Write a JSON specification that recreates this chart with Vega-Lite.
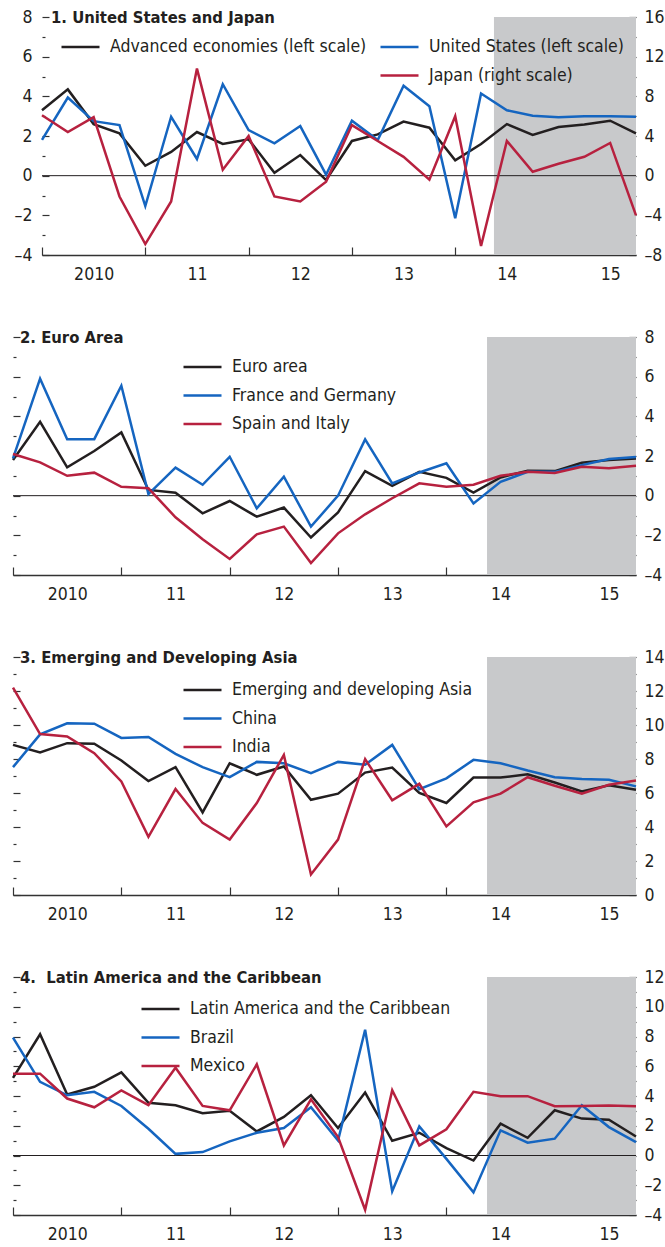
{
  "$schema": "https://vega.github.io/schema/vega-lite/v6.json",
  "background": "white",
  "padding": {"left": 8, "top": 8, "right": 0, "bottom": 0},
  "config": {
    "view": {"stroke": null},
    "font": "DejaVu Sans Condensed, DejaVu Sans, sans-serif",
    "title": {"font": "DejaVu Sans Condensed, DejaVu Sans, sans-serif", "fontSize": 16.5, "fontWeight": "bold", "color": "#231f20", "anchor": "start", "frame": "group", "baseline": "middle", "offset": -18, "dx": 7},
    "axis": {"labelFont": "DejaVu Sans Condensed, DejaVu Sans, sans-serif", "labelFontSize": 17.5, "labelColor": "#231f20", "grid": false, "tickColor": "#333333", "tickWidth": 1.2, "domainColor": "#333333", "domainWidth": 1.5, "labelOverlap": false, "labelFlush": false, "labelBound": false},
    "legend": {"orient": "none", "title": null, "labelFont": "DejaVu Sans Condensed, DejaVu Sans, sans-serif", "labelFontSize": 17.5, "labelColor": "#231f20", "labelLimit": 500, "symbolType": "stroke", "symbolSize": 1444, "symbolStrokeWidth": 3, "clipHeight": 18, "rowPadding": 10.5, "labelOffset": 9, "padding": 0},
    "line": {"strokeWidth": 2.5}
  },
  "datasets": {
    "shade": [{"start": 17.5, "end": 23}],
    "zero": [{"value": 0}],
    "span": [{"value": 0, "from": 0, "to": 23}],
    "p1": [
      {"t": 0, "Advanced economies (left scale)": 3.3, "United States (left scale)": 1.8, "Japan (right scale)": 6.1},
      {"t": 1, "Advanced economies (left scale)": 4.35, "United States (left scale)": 3.94, "Japan (right scale)": 4.4},
      {"t": 2, "Advanced economies (left scale)": 2.6, "United States (left scale)": 2.75, "Japan (right scale)": 5.9},
      {"t": 3, "Advanced economies (left scale)": 2.13, "United States (left scale)": 2.55, "Japan (right scale)": -2.1},
      {"t": 4, "Advanced economies (left scale)": 0.5, "United States (left scale)": -1.53, "Japan (right scale)": -6.9},
      {"t": 5, "Advanced economies (left scale)": 1.2, "United States (left scale)": 2.97, "Japan (right scale)": -2.6},
      {"t": 6, "Advanced economies (left scale)": 2.2, "United States (left scale)": 0.84, "Japan (right scale)": 10.8},
      {"t": 7, "Advanced economies (left scale)": 1.6, "United States (left scale)": 4.61, "Japan (right scale)": 0.6},
      {"t": 8, "Advanced economies (left scale)": 1.83, "United States (left scale)": 2.3, "Japan (right scale)": 4.0},
      {"t": 9, "Advanced economies (left scale)": 0.15, "United States (left scale)": 1.63, "Japan (right scale)": -2.1},
      {"t": 10, "Advanced economies (left scale)": 1.04, "United States (left scale)": 2.5, "Japan (right scale)": -2.6},
      {"t": 11, "Advanced economies (left scale)": -0.22, "United States (left scale)": 0.05, "Japan (right scale)": -0.6},
      {"t": 12, "Advanced economies (left scale)": 1.75, "United States (left scale)": 2.77, "Japan (right scale)": 5.1},
      {"t": 13, "Advanced economies (left scale)": 2.08, "United States (left scale)": 1.8, "Japan (right scale)": 3.5},
      {"t": 14, "Advanced economies (left scale)": 2.73, "United States (left scale)": 4.53, "Japan (right scale)": 1.9},
      {"t": 15, "Advanced economies (left scale)": 2.42, "United States (left scale)": 3.5, "Japan (right scale)": -0.4},
      {"t": 16, "Advanced economies (left scale)": 0.77, "United States (left scale)": -2.15, "Japan (right scale)": 6.0},
      {"t": 17, "Advanced economies (left scale)": 1.6, "United States (left scale)": 4.14, "Japan (right scale)": -7.1},
      {"t": 18, "Advanced economies (left scale)": 2.6, "United States (left scale)": 3.3, "Japan (right scale)": 3.5},
      {"t": 19, "Advanced economies (left scale)": 2.05, "United States (left scale)": 3.02, "Japan (right scale)": 0.4},
      {"t": 20, "Advanced economies (left scale)": 2.45, "United States (left scale)": 2.95, "Japan (right scale)": 1.2},
      {"t": 21, "Advanced economies (left scale)": 2.58, "United States (left scale)": 3.0, "Japan (right scale)": 1.9},
      {"t": 22, "Advanced economies (left scale)": 2.77, "United States (left scale)": 3.0, "Japan (right scale)": 3.3},
      {"t": 23, "Advanced economies (left scale)": 2.13, "United States (left scale)": 2.97, "Japan (right scale)": -4.0}
    ],
    "p2": [
      {"t": 0, "Euro area": 1.8, "France and Germany": 1.88, "Spain and Italy": 2.1},
      {"t": 1, "Euro area": 3.72, "France and Germany": 5.9, "Spain and Italy": 1.68},
      {"t": 2, "Euro area": 1.43, "France and Germany": 2.85, "Spain and Italy": 1.0},
      {"t": 3, "Euro area": 2.25, "France and Germany": 2.85, "Spain and Italy": 1.16},
      {"t": 4, "Euro area": 3.19, "France and Germany": 5.54, "Spain and Italy": 0.45},
      {"t": 5, "Euro area": 0.29, "France and Germany": 0.08, "Spain and Italy": 0.37},
      {"t": 6, "Euro area": 0.15, "France and Germany": 1.41, "Spain and Italy": -1.09},
      {"t": 7, "Euro area": -0.89, "France and Germany": 0.55, "Spain and Italy": -2.2},
      {"t": 8, "Euro area": -0.27, "France and Germany": 1.96, "Spain and Italy": -3.19},
      {"t": 9, "Euro area": -1.06, "France and Germany": -0.64, "Spain and Italy": -1.95},
      {"t": 10, "Euro area": -0.6, "France and Germany": 0.96, "Spain and Italy": -1.56},
      {"t": 11, "Euro area": -2.11, "France and Germany": -1.56, "Spain and Italy": -3.4},
      {"t": 12, "Euro area": -0.84, "France and Germany": 0.0, "Spain and Italy": -1.9},
      {"t": 13, "Euro area": 1.24, "France and Germany": 2.84, "Spain and Italy": -0.94},
      {"t": 14, "Euro area": 0.5, "France and Germany": 0.62, "Spain and Italy": -0.13},
      {"t": 15, "Euro area": 1.2, "France and Germany": 1.17, "Spain and Italy": 0.62},
      {"t": 16, "Euro area": 0.9, "France and Germany": 1.63, "Spain and Italy": 0.45},
      {"t": 17, "Euro area": 0.15, "France and Germany": -0.39, "Spain and Italy": 0.55},
      {"t": 18, "Euro area": 0.92, "France and Germany": 0.7, "Spain and Italy": 1.0},
      {"t": 19, "Euro area": 1.26, "France and Germany": 1.2, "Spain and Italy": 1.2},
      {"t": 20, "Euro area": 1.24, "France and Germany": 1.2, "Spain and Italy": 1.14},
      {"t": 21, "Euro area": 1.66, "France and Germany": 1.54, "Spain and Italy": 1.46},
      {"t": 22, "Euro area": 1.8, "France and Germany": 1.85, "Spain and Italy": 1.38},
      {"t": 23, "Euro area": 1.88, "France and Germany": 1.95, "Spain and Italy": 1.51}
    ],
    "p3": [
      {"t": 0, "Emerging and developing Asia": 8.83, "China": 7.52, "India": 12.2},
      {"t": 1, "Emerging and developing Asia": 8.38, "China": 9.45, "India": 9.47},
      {"t": 2, "Emerging and developing Asia": 8.93, "China": 10.1, "India": 9.32},
      {"t": 3, "Emerging and developing Asia": 8.9, "China": 10.08, "India": 8.34},
      {"t": 4, "Emerging and developing Asia": 7.91, "China": 9.24, "India": 6.68},
      {"t": 5, "Emerging and developing Asia": 6.7, "China": 9.3, "India": 3.42},
      {"t": 6, "Emerging and developing Asia": 7.52, "China": 8.3, "India": 6.23},
      {"t": 7, "Emerging and developing Asia": 4.86, "China": 7.52, "India": 4.24},
      {"t": 8, "Emerging and developing Asia": 7.75, "China": 6.93, "India": 3.26},
      {"t": 9, "Emerging and developing Asia": 7.07, "China": 7.83, "India": 5.41},
      {"t": 10, "Emerging and developing Asia": 7.56, "China": 7.75, "India": 8.24},
      {"t": 11, "Emerging and developing Asia": 5.6, "China": 7.17, "India": 1.21},
      {"t": 12, "Emerging and developing Asia": 5.96, "China": 7.83, "India": 3.26},
      {"t": 13, "Emerging and developing Asia": 7.2, "China": 7.66, "India": 7.99},
      {"t": 14, "Emerging and developing Asia": 7.5, "China": 8.83, "India": 5.57},
      {"t": 15, "Emerging and developing Asia": 6.0, "China": 6.23, "India": 6.54},
      {"t": 16, "Emerging and developing Asia": 5.41, "China": 6.86, "India": 4.04},
      {"t": 17, "Emerging and developing Asia": 6.91, "China": 7.95, "India": 5.45},
      {"t": 18, "Emerging and developing Asia": 6.91, "China": 7.75, "India": 5.96},
      {"t": 19, "Emerging and developing Asia": 7.1, "China": 7.32, "India": 6.93},
      {"t": 20, "Emerging and developing Asia": 6.62, "China": 6.93, "India": 6.43},
      {"t": 21, "Emerging and developing Asia": 6.09, "China": 6.82, "India": 5.96},
      {"t": 22, "Emerging and developing Asia": 6.45, "China": 6.78, "India": 6.48},
      {"t": 23, "Emerging and developing Asia": 6.19, "China": 6.39, "India": 6.74}
    ],
    "p4": [
      {"t": 0, "Latin America and the Caribbean": 5.22, "Brazil": 7.93, "Mexico": 5.5},
      {"t": 1, "Latin America and the Caribbean": 8.15, "Brazil": 4.95, "Mexico": 5.5},
      {"t": 2, "Latin America and the Caribbean": 4.1, "Brazil": 4.05, "Mexico": 3.83},
      {"t": 3, "Latin America and the Caribbean": 4.62, "Brazil": 4.28, "Mexico": 3.24},
      {"t": 4, "Latin America and the Caribbean": 5.59, "Brazil": 3.33, "Mexico": 4.37},
      {"t": 5, "Latin America and the Caribbean": 3.54, "Brazil": 1.8, "Mexico": 3.38},
      {"t": 6, "Latin America and the Caribbean": 3.38, "Brazil": 0.11, "Mexico": 5.9},
      {"t": 7, "Latin America and the Caribbean": 2.84, "Brazil": 0.23, "Mexico": 3.33},
      {"t": 8, "Latin America and the Caribbean": 3.0, "Brazil": 0.95, "Mexico": 3.04},
      {"t": 9, "Latin America and the Caribbean": 1.62, "Brazil": 1.53, "Mexico": 6.13},
      {"t": 10, "Latin America and the Caribbean": 2.59, "Brazil": 1.85, "Mexico": 0.68},
      {"t": 11, "Latin America and the Caribbean": 4.05, "Brazil": 3.24, "Mexico": 3.78},
      {"t": 12, "Latin America and the Caribbean": 1.85, "Brazil": 1.01, "Mexico": 1.24},
      {"t": 13, "Latin America and the Caribbean": 4.23, "Brazil": 8.45, "Mexico": -3.65},
      {"t": 14, "Latin America and the Caribbean": 0.99, "Brazil": -2.41, "Mexico": 4.39},
      {"t": 15, "Latin America and the Caribbean": 1.53, "Brazil": 1.96, "Mexico": 0.68},
      {"t": 16, "Latin America and the Caribbean": 0.5, "Brazil": -0.23, "Mexico": 1.76},
      {"t": 17, "Latin America and the Caribbean": -0.34, "Brazil": -2.48, "Mexico": 4.28},
      {"t": 18, "Latin America and the Caribbean": 2.14, "Brazil": 1.69, "Mexico": 3.99},
      {"t": 19, "Latin America and the Caribbean": 1.19, "Brazil": 0.86, "Mexico": 3.99},
      {"t": 20, "Latin America and the Caribbean": 3.04, "Brazil": 1.13, "Mexico": 3.31},
      {"t": 21, "Latin America and the Caribbean": 2.48, "Brazil": 3.38, "Mexico": 3.33},
      {"t": 22, "Latin America and the Caribbean": 2.41, "Brazil": 1.91, "Mexico": 3.36},
      {"t": 23, "Latin America and the Caribbean": 1.28, "Brazil": 0.9, "Mexico": 3.31}
    ]
  },
  "concat": [
    {
      "width": 623, "height": 238,
      "title": {"text": "1. United States and Japan", "dx": 38},
      "data": {"name": "p1"},
      "layer": [
        {"data": {"name": "shade"}, "mark": {"type": "rect", "color": "#c8c9cb"},
         "encoding": {"x": {"field": "start", "type": "quantitative", "scale": {"domain": [0, 23], "range": [29, 623], "nice": false, "zero": false},
           "axis": {"title": null, "values": [0,2,4,6,8,10,12,14,16,18,20,22], "labelExpr": "datum.value % 4 == 2 ? ['2010','11','12','13','14','15'][floor(datum.value / 4)] : ''", "tickOpacity": {"condition": {"test": "datum.value % 4 == 0", "value": 1}, "value": 0}, "tickSize": -8, "labelPadding": 18}},
           "x2": {"field": "end"}}},
        {"layer": [
          {"data": {"name": "span"}, "mark": {"type": "rule", "color": "#231f20", "strokeWidth": 1},
           "encoding": {
             "x": {"field": "from", "type": "quantitative", "scale": {"domain": [0, 23], "range": [29, 623], "nice": false, "zero": false}, "axis": {"title": null, "values": [0,2,4,6,8,10,12,14,16,18,20,22], "labelExpr": "datum.value % 4 == 2 ? ['2010','11','12','13','14','15'][floor(datum.value / 4)] : ''", "tickOpacity": {"condition": {"test": "datum.value % 4 == 0", "value": 1}, "value": 0}, "tickSize": -8, "labelPadding": 18}},
             "x2": {"field": "to"},
             "y": {"field": "value", "type": "quantitative", "scale": {"domain": [-4, 8], "nice": false, "zero": false},
               "axis": {"title": null, "orient": "left", "offset": -29, "domain": false, "values": [-4,-3,-2,-1,0,1,2,3,4,5,6,7,8], "labelExpr": "datum.value % 2 == 0 ? (datum.value < 0 ? '–' + abs(datum.value) : datum.label) : ''", "tickSize": {"condition": {"test": "datum.value % 2 == 0", "value": -7}, "value": -3}, "labelPadding": 17}}}},
          {"transform": [{"fold": ["Advanced economies (left scale)"], "as": ["s", "v"]}], "mark": "line",
           "encoding": {
             "x": {"field": "t", "type": "quantitative", "scale": {"domain": [0, 23], "range": [29, 623], "nice": false, "zero": false}, "axis": {"title": null, "values": [0,2,4,6,8,10,12,14,16,18,20,22], "labelExpr": "datum.value % 4 == 2 ? ['2010','11','12','13','14','15'][floor(datum.value / 4)] : ''", "tickOpacity": {"condition": {"test": "datum.value % 4 == 0", "value": 1}, "value": 0}, "tickSize": -8, "labelPadding": 18}},
             "y": {"field": "v", "type": "quantitative", "scale": {"domain": [-4, 8], "nice": false, "zero": false},
               "axis": {"title": null, "orient": "left", "offset": -29, "domain": false, "values": [-4,-3,-2,-1,0,1,2,3,4,5,6,7,8], "labelExpr": "datum.value % 2 == 0 ? (datum.value < 0 ? '–' + abs(datum.value) : datum.label) : ''", "tickSize": {"condition": {"test": "datum.value % 2 == 0", "value": -7}, "value": -3}, "labelPadding": 17}},
             "color": {"field": "s", "type": "nominal", "scale": {"domain": ["Advanced economies (left scale)"], "range": ["#231f20"]}, "legend": {"legendX": 47, "legendY": 21}}}},
          {"transform": [{"fold": ["United States (left scale)"], "as": ["s", "v"]}], "mark": "line",
           "encoding": {
             "x": {"field": "t", "type": "quantitative", "scale": {"domain": [0, 23], "range": [29, 623], "nice": false, "zero": false}, "axis": {"title": null, "values": [0,2,4,6,8,10,12,14,16,18,20,22], "labelExpr": "datum.value % 4 == 2 ? ['2010','11','12','13','14','15'][floor(datum.value / 4)] : ''", "tickOpacity": {"condition": {"test": "datum.value % 4 == 0", "value": 1}, "value": 0}, "tickSize": -8, "labelPadding": 18}},
             "y": {"field": "v", "type": "quantitative", "scale": {"domain": [-4, 8], "nice": false, "zero": false},
               "axis": {"title": null, "orient": "left", "offset": -29, "domain": false, "values": [-4,-3,-2,-1,0,1,2,3,4,5,6,7,8], "labelExpr": "datum.value % 2 == 0 ? (datum.value < 0 ? '–' + abs(datum.value) : datum.label) : ''", "tickSize": {"condition": {"test": "datum.value % 2 == 0", "value": -7}, "value": -3}, "labelPadding": 17}},
             "stroke": {"field": "s", "type": "nominal", "scale": {"domain": ["United States (left scale)", "Japan (right scale)"], "range": ["#1565c0", "#b7213f"]}, "legend": {"legendX": 366, "legendY": 21}}}}
        ]},
        {"transform": [{"fold": ["Japan (right scale)"], "as": ["s", "v"]}], "mark": "line",
         "encoding": {
           "x": {"field": "t", "type": "quantitative", "scale": {"domain": [0, 23], "range": [29, 623], "nice": false, "zero": false}, "axis": {"title": null, "values": [0,2,4,6,8,10,12,14,16,18,20,22], "labelExpr": "datum.value % 4 == 2 ? ['2010','11','12','13','14','15'][floor(datum.value / 4)] : ''", "tickOpacity": {"condition": {"test": "datum.value % 4 == 0", "value": 1}, "value": 0}, "tickSize": -8, "labelPadding": 18}},
           "y": {"field": "v", "type": "quantitative", "scale": {"domain": [-8, 16], "nice": false, "zero": false},
             "axis": {"title": null, "orient": "right", "domain": false, "values": [-8,-6,-4,-2,0,2,4,6,8,10,12,14,16], "labelExpr": "datum.value % 4 == 0 ? (datum.value < 0 ? '–' + abs(datum.value) : datum.label) : ''", "tickSize": {"condition": {"test": "datum.value % 4 == 0", "value": -7}, "value": -3}, "labelPadding": 15}},
           "stroke": {"field": "s", "type": "nominal", "scale": {"domain": ["United States (left scale)", "Japan (right scale)"], "range": ["#1565c0", "#b7213f"]}, "legend": {"legendX": 366, "legendY": 21}}}}
      ],
      "resolve": {"scale": {"y": "independent"}}
    },
    {
      "width": 623, "height": 238,
      "title": {"text": "2. Euro Area"},
      "data": {"name": "p2"},
      "layer": [
        {"data": {"name": "shade"}, "mark": {"type": "rect", "color": "#c8c9cb"},
         "encoding": {"x": {"field": "start", "type": "quantitative", "scale": {"domain": [0, 23], "nice": false, "zero": false},
           "axis": {"title": null, "values": [0,2,4,6,8,10,12,14,16,18,20,22], "labelExpr": "datum.value % 4 == 2 ? ['2010','11','12','13','14','15'][floor(datum.value / 4)] : ''", "tickOpacity": {"condition": {"test": "datum.value % 4 == 0", "value": 1}, "value": 0}, "tickSize": -8, "labelPadding": 18}},
           "x2": {"field": "end"}}},
        {"data": {"name": "zero"}, "mark": {"type": "rule", "color": "#231f20", "strokeWidth": 1},
         "encoding": {"y": {"field": "value", "type": "quantitative", "scale": {"domain": [-4, 8], "nice": false, "zero": false},
           "axis": {"title": null, "orient": "left", "domain": false, "labels": false, "values": [-4,-3,-2,-1,0,1,2,3,4,5,6,7,8], "tickSize": {"condition": {"test": "datum.value % 2 == 0", "value": -7}, "value": -3}}}}},
        {"transform": [{"fold": ["Euro area", "France and Germany", "Spain and Italy"], "as": ["s", "v"]}], "mark": "line",
         "encoding": {
           "x": {"field": "t", "type": "quantitative", "scale": {"domain": [0, 23], "nice": false, "zero": false}, "axis": {"title": null, "values": [0,2,4,6,8,10,12,14,16,18,20,22], "labelExpr": "datum.value % 4 == 2 ? ['2010','11','12','13','14','15'][floor(datum.value / 4)] : ''", "tickOpacity": {"condition": {"test": "datum.value % 4 == 0", "value": 1}, "value": 0}, "tickSize": -8, "labelPadding": 18}},
           "y": {"field": "v", "type": "quantitative", "scale": {"domain": [-4, 8], "nice": false, "zero": false},
             "axis": {"title": null, "orient": "right", "domain": false, "values": [-4,-3,-2,-1,0,1,2,3,4,5,6,7,8], "labelExpr": "datum.value % 2 == 0 ? (datum.value < 0 ? '–' + abs(datum.value) : datum.label) : ''", "tickSize": {"condition": {"test": "datum.value % 2 == 0", "value": -7}, "value": -3}, "labelPadding": 15}},
           "color": {"field": "s", "type": "nominal", "scale": {"domain": ["Euro area", "France and Germany", "Spain and Italy"], "range": ["#231f20", "#1565c0", "#b7213f"]}, "legend": {"legendX": 169, "legendY": 21}}}}
      ],
      "resolve": {"scale": {"y": "independent"}}
    },
    {
      "width": 623, "height": 238,
      "title": {"text": "3. Emerging and Developing Asia"},
      "data": {"name": "p3"},
      "layer": [
        {"data": {"name": "shade"}, "mark": {"type": "rect", "color": "#c8c9cb"},
         "encoding": {"x": {"field": "start", "type": "quantitative", "scale": {"domain": [0, 23], "nice": false, "zero": false},
           "axis": {"title": null, "values": [0,2,4,6,8,10,12,14,16,18,20,22], "labelExpr": "datum.value % 4 == 2 ? ['2010','11','12','13','14','15'][floor(datum.value / 4)] : ''", "tickOpacity": {"condition": {"test": "datum.value % 4 == 0", "value": 1}, "value": 0}, "tickSize": -8, "labelPadding": 18}},
           "x2": {"field": "end"}}},
        {"data": {"name": "zero"}, "mark": {"type": "rule", "color": "#231f20", "strokeWidth": 1, "opacity": 0},
         "encoding": {"y": {"field": "value", "type": "quantitative", "scale": {"domain": [0, 14], "nice": false, "zero": false},
           "axis": {"title": null, "orient": "left", "domain": false, "labels": false, "values": [0,1,2,3,4,5,6,7,8,9,10,11,12,13,14], "tickSize": {"condition": {"test": "datum.value % 2 == 0", "value": -7}, "value": -3}}}}},
        {"transform": [{"fold": ["Emerging and developing Asia", "China", "India"], "as": ["s", "v"]}], "mark": "line",
         "encoding": {
           "x": {"field": "t", "type": "quantitative", "scale": {"domain": [0, 23], "nice": false, "zero": false}, "axis": {"title": null, "values": [0,2,4,6,8,10,12,14,16,18,20,22], "labelExpr": "datum.value % 4 == 2 ? ['2010','11','12','13','14','15'][floor(datum.value / 4)] : ''", "tickOpacity": {"condition": {"test": "datum.value % 4 == 0", "value": 1}, "value": 0}, "tickSize": -8, "labelPadding": 18}},
           "y": {"field": "v", "type": "quantitative", "scale": {"domain": [0, 14], "nice": false, "zero": false},
             "axis": {"title": null, "orient": "right", "domain": false, "values": [0,1,2,3,4,5,6,7,8,9,10,11,12,13,14], "labelExpr": "datum.value % 2 == 0 ? datum.label : ''", "tickSize": {"condition": {"test": "datum.value % 2 == 0", "value": -7}, "value": -3}, "labelPadding": 15}},
           "color": {"field": "s", "type": "nominal", "scale": {"domain": ["Emerging and developing Asia", "China", "India"], "range": ["#231f20", "#1565c0", "#b7213f"]}, "legend": {"legendX": 169, "legendY": 24}}}}
      ],
      "resolve": {"scale": {"y": "independent"}}
    },
    {
      "width": 623, "height": 238,
      "title": {"text": "4.\u00a0 Latin America and the Caribbean"},
      "data": {"name": "p4"},
      "layer": [
        {"data": {"name": "shade"}, "mark": {"type": "rect", "color": "#c8c9cb"},
         "encoding": {"x": {"field": "start", "type": "quantitative", "scale": {"domain": [0, 23], "nice": false, "zero": false},
           "axis": {"title": null, "values": [0,2,4,6,8,10,12,14,16,18,20,22], "labelExpr": "datum.value % 4 == 2 ? ['2010','11','12','13','14','15'][floor(datum.value / 4)] : ''", "tickOpacity": {"condition": {"test": "datum.value % 4 == 0", "value": 1}, "value": 0}, "tickSize": -8, "labelPadding": 18}},
           "x2": {"field": "end"}}},
        {"data": {"name": "zero"}, "mark": {"type": "rule", "color": "#231f20", "strokeWidth": 1},
         "encoding": {"y": {"field": "value", "type": "quantitative", "scale": {"domain": [-4, 12], "nice": false, "zero": false},
           "axis": {"title": null, "orient": "left", "domain": false, "labels": false, "values": [-4,-3,-2,-1,0,1,2,3,4,5,6,7,8,9,10,11,12], "tickSize": {"condition": {"test": "datum.value % 2 == 0", "value": -7}, "value": -3}}}}},
        {"transform": [{"fold": ["Latin America and the Caribbean", "Brazil", "Mexico"], "as": ["s", "v"]}], "mark": "line",
         "encoding": {
           "x": {"field": "t", "type": "quantitative", "scale": {"domain": [0, 23], "nice": false, "zero": false}, "axis": {"title": null, "values": [0,2,4,6,8,10,12,14,16,18,20,22], "labelExpr": "datum.value % 4 == 2 ? ['2010','11','12','13','14','15'][floor(datum.value / 4)] : ''", "tickOpacity": {"condition": {"test": "datum.value % 4 == 0", "value": 1}, "value": 0}, "tickSize": -8, "labelPadding": 18}},
           "y": {"field": "v", "type": "quantitative", "scale": {"domain": [-4, 12], "nice": false, "zero": false},
             "axis": {"title": null, "orient": "right", "domain": false, "values": [-4,-3,-2,-1,0,1,2,3,4,5,6,7,8,9,10,11,12], "labelExpr": "datum.value % 2 == 0 ? (datum.value < 0 ? '–' + abs(datum.value) : datum.label) : ''", "tickSize": {"condition": {"test": "datum.value % 2 == 0", "value": -7}, "value": -3}, "labelPadding": 15}},
           "color": {"field": "s", "type": "nominal", "scale": {"domain": ["Latin America and the Caribbean", "Brazil", "Mexico"], "range": ["#231f20", "#1565c0", "#b7213f"]}, "legend": {"legendX": 127, "legendY": 23}}}}
      ],
      "resolve": {"scale": {"y": "independent"}}
    }
  ],
  "columns": 1,
  "spacing": 45,
  "resolve": {"scale": {"color": "independent", "stroke": "independent"}, "legend": {"color": "independent", "stroke": "independent"}}
}
